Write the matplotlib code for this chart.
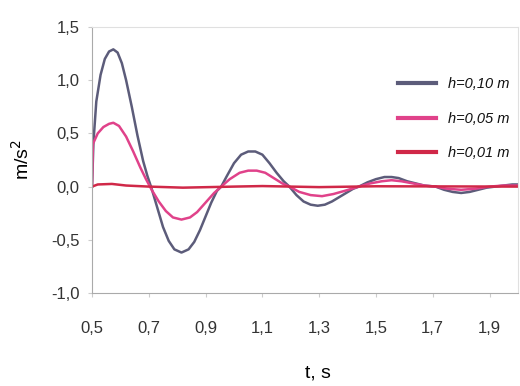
import matplotlib
matplotlib.use("Agg")
import matplotlib.pyplot as plt
from matplotlib.ticker import FuncFormatter

# readings (t in s, acceleration in m/s^2)
t_10 = [0.500, 0.505, 0.515, 0.530, 0.545, 0.560, 0.575, 0.590, 0.605, 0.620,
        0.640, 0.660, 0.680, 0.695, 0.710, 0.730, 0.750, 0.770, 0.790, 0.815,
        0.840, 0.860, 0.880, 0.900, 0.920, 0.940, 0.955, 0.975, 1.000, 1.025,
        1.050, 1.075, 1.100, 1.125, 1.150, 1.175, 1.195, 1.220, 1.245, 1.270,
        1.295, 1.320, 1.345, 1.370, 1.395, 1.420, 1.440, 1.470, 1.500, 1.530,
        1.555, 1.580, 1.610, 1.640, 1.670, 1.710, 1.740, 1.770, 1.800, 1.830,
        1.860, 1.890, 1.920, 1.950, 1.980, 2.000]
a_10 = [0.00, 0.42, 0.80, 1.05, 1.20, 1.27, 1.29, 1.26, 1.16, 1.00,
        0.75, 0.48, 0.24, 0.10, -0.02, -0.20, -0.38, -0.51, -0.59, -0.62,
        -0.59, -0.52, -0.41, -0.28, -0.15, -0.04, 0.00, 0.10, 0.22, 0.30,
        0.33, 0.33, 0.30, 0.22, 0.13, 0.05, 0.00, -0.08, -0.14, -0.17,
        -0.18, -0.17, -0.14, -0.10, -0.06, -0.02, 0.00, 0.04, 0.07, 0.09,
        0.09, 0.08, 0.05, 0.03, 0.01, 0.00, -0.03, -0.05, -0.06, -0.05,
        -0.03, -0.01, 0.00, 0.01, 0.02, 0.02]

t_05 = [0.500, 0.503, 0.520, 0.540, 0.560, 0.575, 0.595, 0.620, 0.645, 0.670,
        0.690, 0.710, 0.735, 0.760, 0.785, 0.815, 0.845, 0.870, 0.900, 0.930,
        0.955, 0.985, 1.020, 1.050, 1.080, 1.110, 1.140, 1.170, 1.195, 1.230,
        1.270, 1.310, 1.350, 1.390, 1.440, 1.480, 1.520, 1.555, 1.590, 1.630,
        1.670, 1.710, 1.750, 1.800, 1.850, 1.900, 1.950, 2.000]
a_05 = [0.00, 0.40, 0.50, 0.56, 0.59, 0.60, 0.57, 0.47, 0.33, 0.18,
        0.07, -0.03, -0.14, -0.23, -0.29, -0.31, -0.29, -0.24, -0.15, -0.06,
        0.00, 0.07, 0.13, 0.15, 0.15, 0.13, 0.08, 0.03, 0.00, -0.05,
        -0.08, -0.09, -0.07, -0.04, 0.00, 0.03, 0.05, 0.06, 0.05, 0.03,
        0.01, 0.00, -0.02, -0.03, -0.02, 0.00, 0.01, 0.01]

t_01 = [0.50, 0.52, 0.57, 0.62, 0.70, 0.82, 1.00, 1.10, 1.30, 1.50, 2.00]
a_01 = [0.00, 0.02, 0.025, 0.01, 0.00, -0.01, 0.00, 0.005, -0.005, 0.003, 0.00]

labels = ["h=0,10 m", "h=0,05 m", "h=0,01 m"]
x_ticks = [0.5, 0.7, 0.9, 1.1, 1.3, 1.5, 1.7, 1.9]
y_ticks = [-1.0, -0.5, 0.0, 0.5, 1.0, 1.5]

plt.rcParams['font.family'] = ['Liberation Sans', 'DejaVu Sans']

fig = plt.figure(figsize=(5.2, 3.86), dpi=100)
ax = fig.add_axes([0.177, 0.241, 0.819, 0.689])

ax.plot(t_10, a_10, color='#5c5c7a', lw=1.8, label=labels[0])
ax.plot(t_05, a_05, color='#e0428a', lw=1.8, label=labels[1])
ax.plot(t_01, a_01, color='#d02848', lw=1.8, label=labels[2])

ax.set_xlim(0.5, 2.0)
ax.set_ylim(-1.0, 1.5)
ax.set_xticks(x_ticks)
ax.set_yticks(y_ticks)
comma = FuncFormatter(lambda v, p: ("%.1f" % v).replace('.', ','))
ax.xaxis.set_major_formatter(comma)
ax.yaxis.set_major_formatter(comma)
ax.tick_params(axis='both', labelsize=12, colors='#333333', length=3)
ax.tick_params(axis='x', pad=17, color='#cccccc')
ax.tick_params(axis='y', pad=6, color='#cccccc')

for s in ['left', 'bottom']:
    ax.spines[s].set_color('#aaaaaa')
for s in ['top', 'right']:
    ax.spines[s].set_color('#e0e0e0')

ax.set_ylabel('m/s$^2$', fontsize=14)
ax.yaxis.set_label_coords(-0.138, 0.5)
ax.set_xlabel('t, s', fontsize=14)
ax.xaxis.set_label_coords(0.53, -0.27)

leg = ax.legend(loc='upper right', bbox_to_anchor=(1.01, 0.86), frameon=False,
                prop={'style': 'italic', 'size': 10.5}, handlelength=2.6,
                handletextpad=0.8, labelspacing=1.4)
for line in leg.get_lines():
    line.set_linewidth(3)
for txt in leg.get_texts():
    txt.set_color('#111111')

fig.savefig('out.png', dpi=100)
